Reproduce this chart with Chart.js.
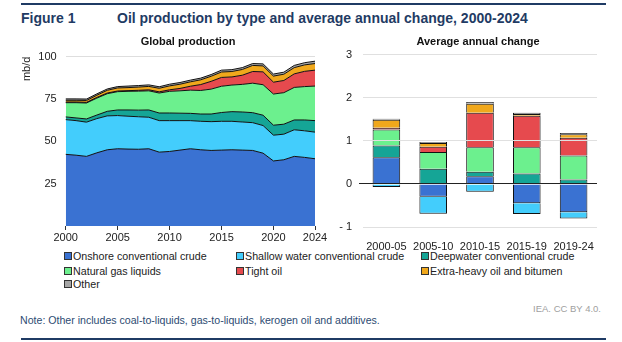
<!DOCTYPE html>
<html>
<head>
<meta charset="utf-8">
<script src="https://cdn.jsdelivr.net/npm/chart.js@4/dist/chart.umd.min.js"></script>
<style>
  body { margin: 0; background: #fff; font-family: "Liberation Sans", Arial, sans-serif; }
  #wrap { position: relative; width: 622px; height: 342px; overflow: hidden; }
  .abs { position: absolute; white-space: nowrap; line-height: 1; }
  .rule { position: absolute; left: 21px; width: 585px; height: 2px; background: #1f3b64; }
  .sub { font-weight: bold; font-size: 11px; color: #111; text-align: center; width: 200px; }
  .leg { font-size: 10.7px; color: #222; }
  .leg i { display: inline-block; width: 6px; height: 6px; border: 1px solid #333; margin-right: 1px; vertical-align: 0px; }
</style>
</head>
<body>
<div id="wrap">
  <div class="rule" style="top:3px"></div>
  <div class="abs" style="left:21px;top:11px;font-size:14px;font-weight:bold;color:#1f3b64">Figure 1</div>
  <div class="abs" style="left:117px;top:11px;font-size:14px;font-weight:bold;color:#1f3b64">Oil production by type and average annual change, 2000-2024</div>
  <canvas id="prodChart" class="abs" style="left:20px;top:41px"></canvas>
  <canvas id="changeChart" class="abs" style="left:330px;top:41px"></canvas>
  <div class="abs sub" style="left:88px;top:36px">Global production</div>
  <div class="abs sub" style="left:378px;top:36px">Average annual change</div>
  <div id="legend"></div>
  <div class="abs" style="left:501px;top:304px;font-size:9.5px;color:#a0a0a0;width:100px;text-align:right">IEA. CC BY 4.0.</div>
  <div class="abs" style="left:20px;top:315px;font-size:10.6px;color:#2d4b72">Note: Other includes coal-to-liquids, gas-to-liquids, kerogen oil and additives.</div>
  <div class="rule" style="top:338px"></div>
</div>
<script>
// series names and colours
const seriesNames = ["Onshore conventional crude", "Shallow water conventional crude", "Deepwater conventional crude",
    "Natural gas liquids", "Tight oil", "Extra-heavy oil and bitumen", "Other"];
const seriesColors = ["#3a72d2", "#43cdfc", "#15a596", "#6cf08e", "#e64a4e", "#f0a81c", "#a6a6a6"];

// global production, mb/d
const years = ["2000", "2001", "2002", "2003", "2004", "2005", "2006", "2007", "2008", "2009", "2010", "2011", "2012",
    "2013", "2014", "2015", "2016", "2017", "2018", "2019", "2020", "2021", "2022", "2023", "2024"];
const onshore = [42.3, 41.8, 41.1, 43.2, 45.0, 45.6, 45.4, 45.3, 45.6, 43.6, 44.0, 44.8, 45.6, 45.0, 44.6, 44.8, 45.0, 44.8, 44.6, 43.0, 38.4, 39.1, 41.1, 40.5, 39.7];
const shallow = [20.5, 20.4, 20.2, 20.2, 20.0, 19.6, 19.4, 19.2, 18.6, 18.6, 18.2, 17.4, 16.6, 16.8, 17.0, 17.0, 16.8, 16.6, 16.4, 16.3, 15.2, 15.1, 15.7, 15.7, 15.7];
const deepwater = [1.6, 1.6, 1.9, 2.1, 2.7, 3.3, 3.7, 3.9, 4.3, 4.5, 4.5, 4.4, 4.3, 4.3, 4.5, 5.2, 5.7, 5.9, 5.9, 6.1, 5.9, 5.9, 5.8, 6.4, 6.8];
const ngl = [8.4, 9.0, 9.4, 10.0, 10.4, 10.8, 11.0, 11.2, 11.3, 11.8, 12.8, 13.2, 13.7, 13.9, 14.7, 15.5, 15.7, 16.3, 17.4, 18.0, 18.4, 18.6, 19.2, 19.7, 20.4];
const tight = [0.4, 0.4, 0.4, 0.4, 0.4, 0.4, 0.4, 0.5, 0.6, 0.7, 0.9, 1.4, 2.3, 3.5, 4.6, 5.2, 4.8, 5.4, 6.9, 7.6, 7.0, 7.2, 8.0, 9.0, 9.4];
const extraHeavy = [1.0, 1.0, 1.1, 1.3, 1.6, 1.8, 1.8, 1.9, 2.0, 2.1, 2.3, 2.5, 2.6, 2.8, 3.0, 3.2, 3.2, 3.4, 3.6, 3.5, 3.6, 3.7, 3.7, 3.8, 3.9];
const other = [0.8, 0.8, 0.8, 0.8, 0.8, 0.8, 0.9, 0.9, 0.9, 0.9, 1.0, 1.0, 1.0, 1.0, 1.0, 1.1, 1.1, 1.1, 1.1, 1.2, 1.2, 1.2, 1.3, 1.3, 1.4];

// average annual change, mb/d per year
const periods = ["2000-05", "2005-10", "2010-15", "2015-19", "2019-24"];
const chgOnshore = [0.62, -0.30, 0.18, -0.45, -0.66];
const chgShallow = [-0.07, -0.39, -0.18, -0.25, -0.14];
const chgDeepwater = [0.27, 0.35, 0.10, 0.24, 0.10];
const chgNgl = [0.37, 0.39, 0.57, 0.61, 0.56];
const chgTight = [0.04, 0.12, 0.80, 0.73, 0.41];
const chgExtraHeavy = [0.19, 0.09, 0.21, 0.04, 0.08];
const chgOther = [0.02, 0.02, 0.04, 0.03, 0.03];

const prodTicks = [25, 50, 75, 100];

Chart.defaults.font.family = '"Liberation Sans", Arial, sans-serif';
Chart.defaults.font.size = 11;
Chart.defaults.color = "#222";

// legend
const legend = document.getElementById("legend");
const legX = [64, 236, 421];
const legY = [251, 265.5, 278.5];
seriesNames.forEach((name, i) => {
    const d = document.createElement("div");
    d.className = "abs leg";
    d.style.left = legX[i % 3] + "px";
    d.style.top = legY[Math.floor(i / 3)] + "px";
    d.innerHTML = `<i style="background:${seriesColors[i]}"></i>${name}`;
    legend.appendChild(d);
});

const prodSeries = [onshore, shallow, deepwater, ngl, tight, extraHeavy, other];
const chgSeries = [chgOnshore, chgShallow, chgDeepwater, chgNgl, chgTight, chgExtraHeavy, chgOther];

function shownYear(label, i) {
    return (+label % 5 === 0) || i === years.length - 1;
}

const prodCanvas = document.getElementById("prodChart");
prodCanvas.width = 310;
prodCanvas.height = 209;
new Chart(prodCanvas, {
    type: "line",
    data: {
        labels: years,
        datasets: prodSeries.map((vals, i) => ({
            label: seriesNames[i],
            data: vals,
            backgroundColor: seriesColors[i],
            borderColor: "#111",
            borderWidth: 1,
            pointRadius: 0,
            tension: 0,
            fill: i === 0 ? "origin" : "-1"
        }))
    },
    options: {
        responsive: false,
        animation: false,
        layout: { padding: { top: 0, right: 15 } },
        plugins: { legend: { display: false }, tooltip: { enabled: false } },
        scales: {
            x: {
                offset: false,
                grid: {
                    drawOnChartArea: false,
                    tickLength: 4,
                    color: ctx => shownYear(years[ctx.index], ctx.index) ? "#333" : "rgba(0,0,0,0)"
                },
                border: { display: false },
                ticks: {
                    autoSkip: false,
                    maxRotation: 0,
                    padding: 1,
                    callback: (v, i) => shownYear(years[i], i) ? years[i] : ""
                },
                afterFit: s => { s.height = 24; }
            },
            y: {
                stacked: true,
                min: 0,
                max: 100,
                afterBuildTicks: s => { s.ticks = prodTicks.map(v => ({ value: v })); },
                grid: { color: "#dedede", drawTicks: false },
                border: { display: false },
                ticks: { padding: 9 },
                title: { display: true, text: "mb/d", align: "end", padding: 0, font: { size: 11 } },
                afterFit: s => { s.width = 45.7; }
            }
        }
    }
});

const chgCanvas = document.getElementById("changeChart");
chgCanvas.width = 292;
chgCanvas.height = 209;
new Chart(chgCanvas, {
    type: "bar",
    data: {
        labels: periods,
        datasets: chgSeries.map((vals, i) => ({
            label: seriesNames[i],
            data: vals,
            backgroundColor: seriesColors[i],
            borderColor: "#111",
            borderWidth: 1,
            barPercentage: 0.59,
            categoryPercentage: 1
        }))
    },
    options: {
        responsive: false,
        animation: false,
        layout: { padding: { top: 0, right: 25 } },
        plugins: { legend: { display: false }, tooltip: { enabled: false } },
        scales: {
            x: {
                stacked: true,
                grid: { display: false },
                border: { display: false },
                ticks: { padding: 5, maxRotation: 0, autoSkip: false },
                afterFit: s => { s.height = 23; }
            },
            y: {
                stacked: true,
                min: -1,
                max: 3,
                ticks: {
                    stepSize: 1,
                    padding: 7,
                    callback: v => v < 0 ? "- " + Math.abs(v) : v
                },
                grid: {
                    color: ctx => ctx.tick && ctx.tick.value === 0 ? "#222" : "#e0e0e0",
                    tickColor: ctx => ctx.tick && ctx.tick.value === 0 ? "#222" : "rgba(0,0,0,0)",
                    tickLength: 4,
                    z: 1
                },
                border: { display: false },
                afterFit: s => { s.width = 33; }
            }
        }
    }
});
</script>
</body>
</html>
